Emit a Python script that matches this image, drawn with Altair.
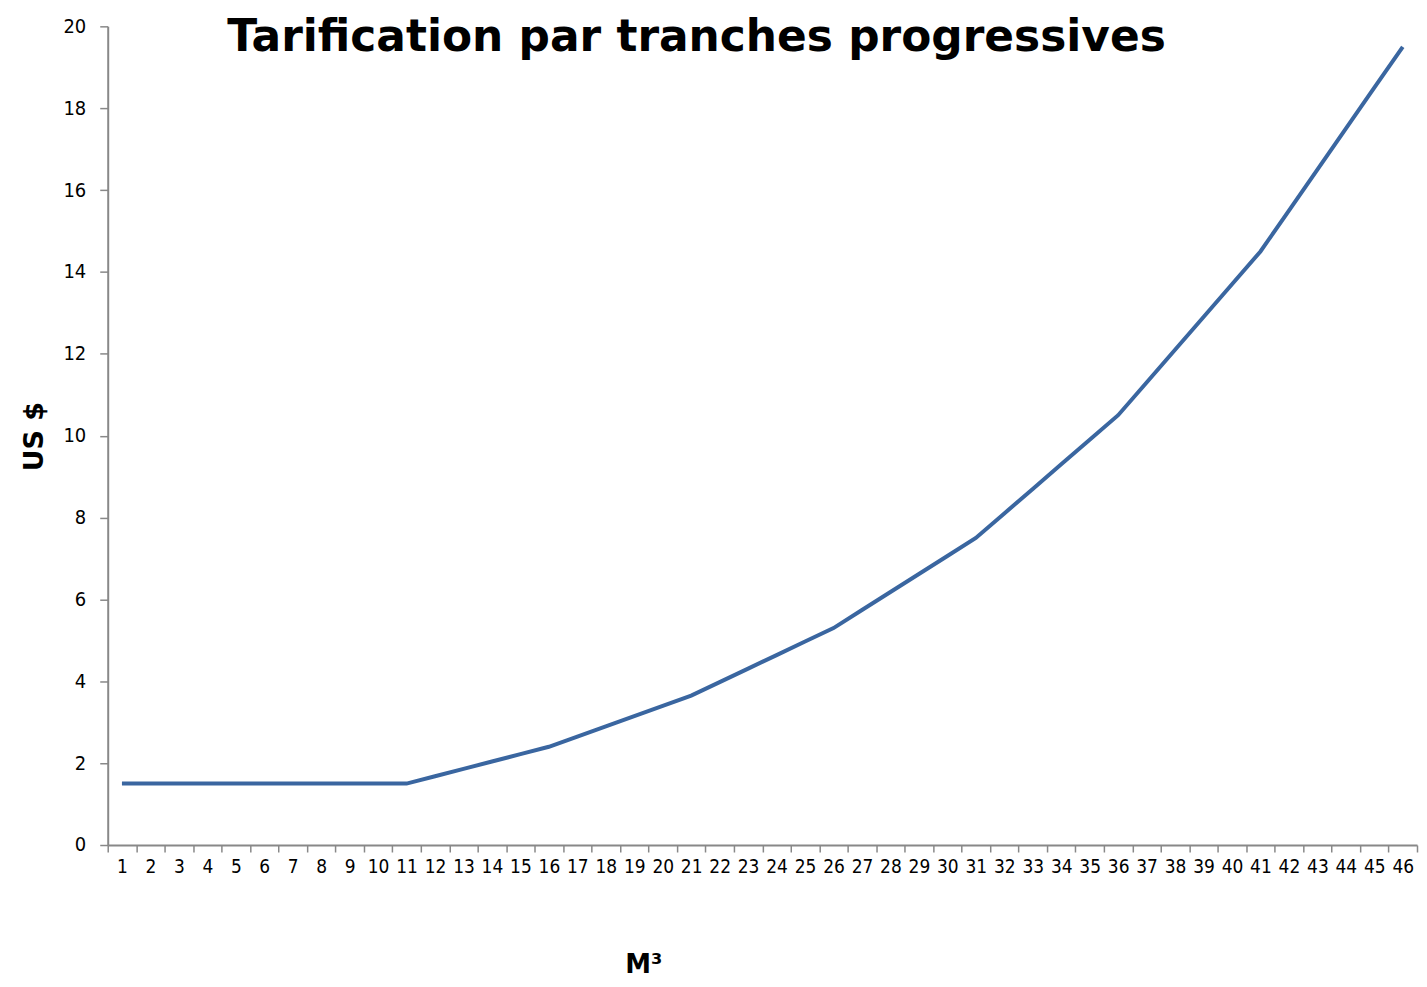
import altair as alt
import pandas as pd

m3 = list(range(1, 47))
usd = [1.5, 1.5, 1.5, 1.5, 1.5, 1.5, 1.5, 1.5, 1.5, 1.5, 1.5,
       1.68, 1.86, 2.04, 2.22, 2.4,
       2.65, 2.9, 3.15, 3.4, 3.65,
       3.98, 4.31, 4.64, 4.97, 5.3,
       5.74, 6.18, 6.62, 7.06, 7.5,
       8.1, 8.7, 9.3, 9.9, 10.5,
       11.3, 12.1, 12.9, 13.7, 14.5,
       15.5, 16.5, 17.5, 18.5, 19.5]
y_ticks = [0, 2, 4, 6, 8, 10, 12, 14, 16, 18, 20]

df = pd.DataFrame({"m3": m3, "usd": usd})

FONT = "DejaVu Sans Condensed"

chart = alt.Chart(df).mark_line(color="#3A66A0", strokeWidth=4).encode(
    x=alt.X("m3:O", sort=m3,
            scale=alt.Scale(type="band", paddingInner=0, paddingOuter=0),
            axis=alt.Axis(title="M³", labelAngle=0, tickBand="extent",
                          domainColor="#888888", domainWidth=2,
                          tickColor="#888888", tickWidth=1.5, tickSize=7,
                          labelFont=FONT, labelFontSize=19, labelColor="#000000",
                          labelPadding=6, labelOverlap=False,
                          titleFont="DejaVu Sans", titleFontSize=26, titleFontWeight="bold",
                          titleColor="#000000", titleX=537, titleY=120,
                          titleBaseline="middle", titleAnchor="start", titleAlign="center")),
    y=alt.Y("usd:Q",
            scale=alt.Scale(domain=[0, 20], nice=False, zero=True),
            axis=alt.Axis(title="US $", values=y_ticks, grid=False,
                          domainColor="#888888", domainWidth=2,
                          tickColor="#888888", tickWidth=1.5, tickSize=8,
                          labelFont=FONT, labelFontSize=20, labelColor="#000000",
                          labelPadding=14,
                          titleFont="DejaVu Sans", titleFontSize=27, titleFontWeight="bold",
                          titleColor="#000000", titleX=-73, titleY=411,
                          titleBaseline="middle", titleAlign="center", titleAnchor="start")),
).properties(
    width=1313,
    height=821,
    background="white",
    autosize=alt.AutoSizeParams(type="none"),
    padding={"left": 100, "top": 17, "right": 2, "bottom": 140},
    title=alt.TitleParams("Tarification par tranches progressives",
                          font="DejaVu Sans", fontSize=44, fontWeight="bold",
                          color="#000000", anchor="middle", dx=-66, dy=48),
).configure_view(strokeWidth=0)

chart.save("out.html", embed_options={"renderer": "svg", "actions": False})
